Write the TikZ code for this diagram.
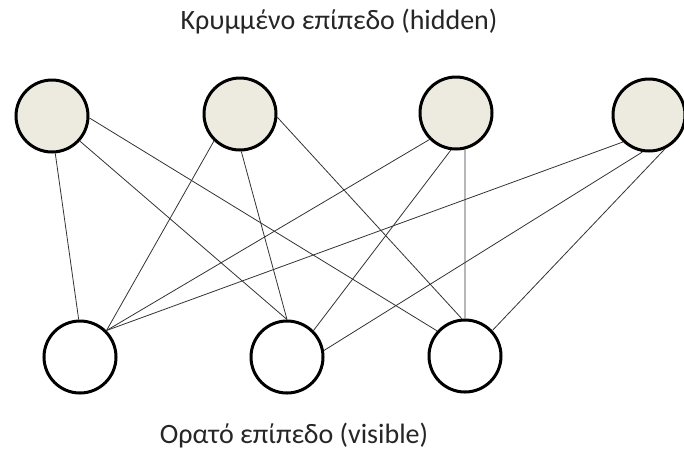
\documentclass[tikz,border=0pt]{standalone}
\usepackage{fontspec}
\setmainfont{Carlito}
\usepackage{tikz}
\usetikzlibrary{positioning}
\usepackage{xcolor}
\definecolor{unitfill}{HTML}{EDEBE0}
\definecolor{wire}{HTML}{333333}

\begin{document}
\begin{tikzpicture}[
  x=1pt, y=-1pt,
  hidunit/.style={circle, draw, line width=3pt, minimum size=72pt, fill=unitfill},
  visunit/.style={circle, draw, line width=3pt, minimum size=72pt, fill=white},
  line/.style={draw, color=wire, line width=0.8pt},
  layer/.style={font=\fontsize{28}{32}\selectfont, text=black!85}
]
\useasboundingbox (0,0) rectangle (684,451);

% Layer titles
\node[layer] (toptitle) at (339,22) {Κρυμμένο επίπεδο (hidden)};
\node[layer] (bottitle) at (294,436) {Ορατό επίπεδο (visible)};

% Hidden units
\node[hidunit] (h1) at (52,116) {};
\node[hidunit] (h2) at (240,114) {};
\node[hidunit] (h3) at (456,113) {};
\node[hidunit] (h4) at (649,115) {};

% Visible units
\node[visunit] (v1) at (80,357) {};
\node[visunit] (v2) at (287,357) {};
\node[visunit] (v3) at (465,356) {};

% Connections from h1
\draw[line] (h1.-85) -- (v1.92);
\draw[line] (h1.-42) -- (v2.90);
\draw[line] (h1.-3) -- (v3.138);

% Connections from h2
\draw[line] (h2.-134) -- (v1.45);
\draw[line] (h2.-88) -- (v2.90);
\draw[line] (h2.-5) -- (v3.95);

% Connections from h3
\draw[line] (h3.-135) -- (v1.45);
\draw[line] (h3.-98) -- (v2.45);
\draw[line] (h3.-76) -- (v3.90);

% Connections from h4
\draw[line] (h4.-134) -- (v1.45);
\draw[line] (h4.-100) -- (v2.10);
\draw[line] (h4.-65) -- (v3.43);

\end{tikzpicture}
\end{document}
